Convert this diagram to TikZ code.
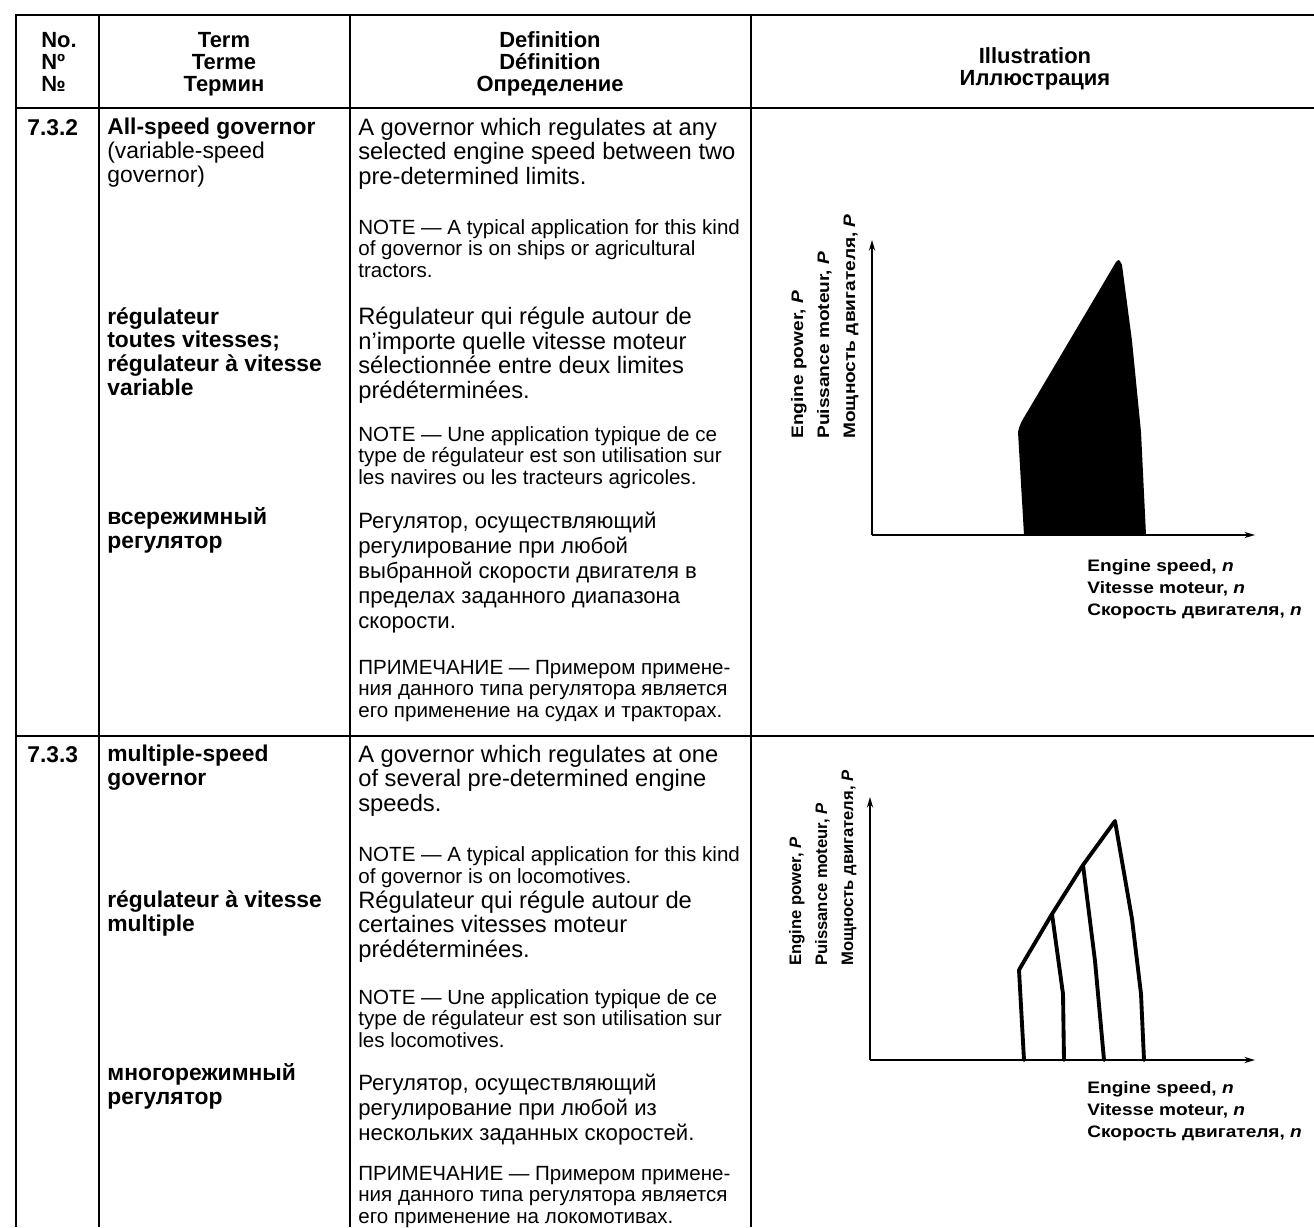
\documentclass[tikz,border=0pt]{standalone}
\usepackage{fontspec}
\setmainfont{Liberation Sans}
\newfontfamily\chartfont{Liberation Sans}[FakeStretch=1.15]
\newfontfamily\chartfontlow{Liberation Sans}[FakeStretch=1.0]
\usetikzlibrary{arrows.meta}

\begin{document}
\begin{tikzpicture}[x=0.02cm, y=-0.02cm,
    rulethick/.style={line width=1.6pt},
    rulethin/.style={line width=0.9pt},
    hdtext/.style={anchor=base, align=center, inner sep=0pt, font=\bfseries\fontsize{12.5}{12.5}\selectfont},
    numtext/.style={anchor=base west, inner sep=0pt, font=\bfseries\fontsize{13}{13.4}\selectfont},
    termtext/.style={anchor=base west, align=left, inner sep=0pt, font=\bfseries\fontsize{13}{13.4}\selectfont},
    deftext/.style={anchor=base west, align=left, inner sep=0pt, font=\fontsize{13.5}{13.9}\selectfont},
    rudeftext/.style={deftext, font=\fontsize{12.6}{14.1}\selectfont},
    notetext/.style={anchor=base west, align=left, inner sep=0pt, font=\fontsize{11.7}{12.2}\selectfont},
    axislabel/.style={anchor=base west, align=left, inner sep=0pt, font=\chartfont\bfseries\fontsize{9.45}{12.5}\selectfont},
    powerlabel/.style={anchor=base west, align=left, inner sep=0pt, rotate=90, font=\chartfont\bfseries\fontsize{9.45}{14.8}\selectfont},
    axisline/.style={line width=1.1pt, -{Stealth[length=6pt,width=3.5pt]}},
    speedline/.style={line width=2.2pt, line join=round, line cap=round}]
  \useasboundingbox (0,0) rectangle (1314,1227);

  % table rules
  \draw[rulethick] (15,15) -- (1314,15);
  \draw[rulethick] (16,108) -- (1314,108);
  \draw[rulethick] (16,736) -- (1314,736);
  \draw[rulethick] (16,15) -- (16,1227);
  \draw[rulethin] (99,15) -- (99,1227);
  \draw[rulethin] (350,15) -- (350,1227);
  \draw[rulethin] (751,15) -- (751,1227);

  % header (base = last line)
  \node[hdtext, anchor=base west, align=left] (hdNo) at (41,91) {No.\\Nº\\№};
  \node[hdtext] (hdTerm) at (224,91) {Term\\Terme\\Термин};
  \node[hdtext] (hdDef) at (550,91) {Definition\\Définition\\Определение};
  \node[hdtext] (hdIll) at (1035,85) {Illustration\\Иллюстрация};

  % 7.3.2
  \node[numtext] (noA) at (27,135) {7.3.2};
  \node[termtext] (termAen) at (107,182) {All-speed governor\\\mdseries(variable-speed\\\mdseries governor)};
  \node[termtext] (termAfr) at (107,395) {régulateur\\toutes vitesses;\\régulateur à vitesse\\variable};
  \node[termtext] (termAru) at (107,548) {всережимный\\регулятор};
  \node[deftext] (defAen) at (358,184) {A governor which regulates at any\\selected engine speed between two\\pre-determined limits.};
  \node[notetext] (noteAen) at (358,277) {NOTE — A typical application for this kind\\of governor is on ships or agricultural\\tractors.};
  \node[deftext] (defAfr) at (358,398) {Régulateur qui régule autour de\\n'importe quelle vitesse moteur\\sélectionnée entre deux limites\\prédéterminées.};
  \node[notetext] (noteAfr) at (358,484) {NOTE — Une application typique de ce\\type de régulateur est son utilisation sur\\les navires ou les tracteurs agricoles.};
  \node[rudeftext] (defAru) at (358,628) {Регулятор, осуществляющий\\регулирование при любой\\выбранной скорости двигателя в\\пределах заданного диапазона\\скорости.};
  \node[notetext] (noteAru) at (358,717) {ПРИМЕЧАНИЕ — Примером примене-\\ния данного типа регулятора является\\его применение на судах и тракторах.};

  % 7.3.3
  \node[numtext] (noB) at (27,762) {7.3.3};
  \node[termtext] (termBen) at (107,785) {multiple-speed\\governor};
  \node[termtext] (termBfr) at (107,931) {régulateur à vitesse\\multiple};
  \node[termtext] (termBru) at (107,1104) {многорежимный\\регулятор};
  \node[deftext] (defBen) at (358,811) {A governor which regulates at one\\of several pre-determined engine\\speeds.};
  \node[notetext] (noteBen) at (358,883) {NOTE — A typical application for this kind\\of governor is on locomotives.};
  \node[deftext] (defBfr) at (358,957) {Régulateur qui régule autour de\\certaines vitesses moteur\\prédéterminées.};
  \node[notetext] (noteBfr) at (358,1047) {NOTE — Une application typique de ce\\type de régulateur est son utilisation sur\\les locomotives.};
  \node[rudeftext] (defBru) at (358,1140) {Регулятор, осуществляющий\\регулирование при любой из\\нескольких заданных скоростей.};
  \node[notetext] (noteBru) at (358,1223) {ПРИМЕЧАНИЕ — Примером примене-\\ния данного типа регулятора является\\его применение на локомотивах.};

  % all-speed diagram
  \coordinate (orgA) at (872,535);
  \coordinate (topA) at (872,240);
  \coordinate (tipA) at (1255,535);
  \fill (1024,535) -- (1018,432) .. controls (1020,424) .. (1029,409) -- (1116,262)
    .. controls (1119,259) .. (1122,265) -- (1132,341) -- (1141,432) -- (1146,535) -- cycle;
  \draw[axisline] (orgA) -- (topA);
  \draw[axisline] (orgA) -- (tipA);
  \node[powerlabel] (powA) at (855,439) {Engine power, \textit{P}\\Puissance moteur, \textit{P}\\Мощность двигателя, \textit{P}};
  \node[axislabel] (spdA) at (1087,615) {Engine speed, \textit{n}\\Vitesse moteur, \textit{n}\\Скорость двигателя, \textit{n}};

  % multiple-speed diagram
  \coordinate (orgB) at (870,1060);
  \coordinate (topB) at (870,797);
  \coordinate (tipB) at (1255,1060);
  \draw[speedline] (1024,1060) -- (1019,970) -- (1023,963) -- (1052,914) -- (1083,865)
    -- (1115,821) -- (1132,919) -- (1141,994) -- (1144,1060);
  \draw[speedline] (1052,914) -- (1063,994) -- (1064,1060);
  \draw[speedline] (1083,865) -- (1095,961) -- (1104,1060);
  \draw[axisline] (orgB) -- (topB);
  \draw[axisline] (orgB) -- (tipB);
  \node[powerlabel, font=\chartfontlow\bfseries\fontsize{9.45}{14.8}\selectfont] (powB) at (853,966) {Engine power, \textit{P}\\Puissance moteur, \textit{P}\\Мощность двигателя, \textit{P}};
  \node[axislabel] (spdB) at (1087,1137) {Engine speed, \textit{n}\\Vitesse moteur, \textit{n}\\Скорость двигателя, \textit{n}};
\end{tikzpicture}
\end{document}
